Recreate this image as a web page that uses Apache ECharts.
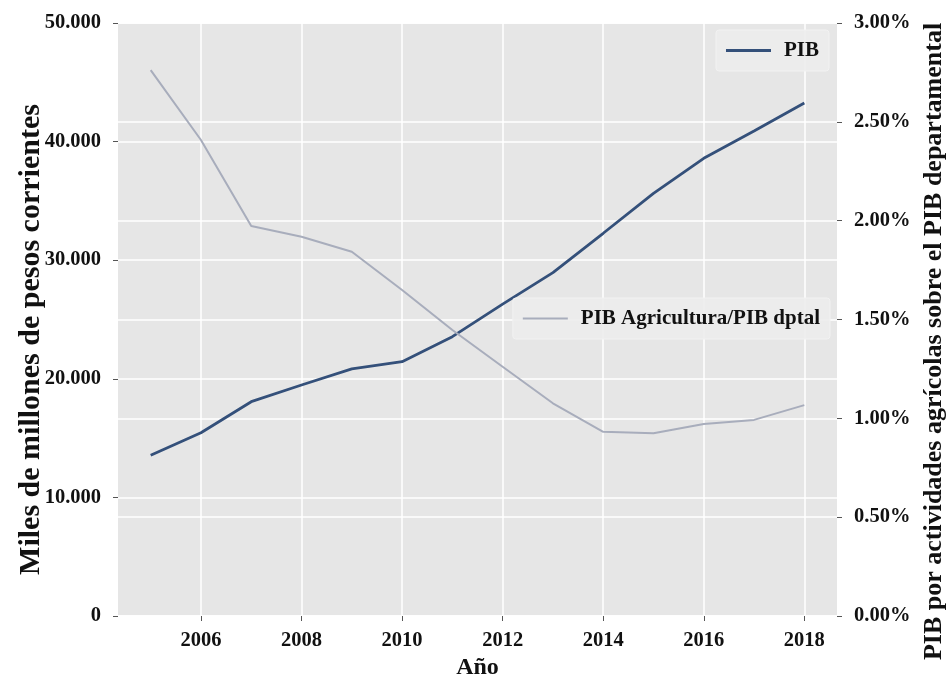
<!DOCTYPE html>
<html>
<head>
<meta charset="utf-8">
<script src="https://cdn.jsdelivr.net/npm/echarts@6/dist/echarts.min.js"></script>
<style>
  html, body { margin: 0; padding: 0; background: #fff; }
  #chart { width: 947px; height: 683px; }
</style>
</head>
<body>
<div id="chart"></div>
<script>
// years on the x axis
var years = [2005, 2006, 2007, 2008, 2009, 2010, 2011, 2012, 2013, 2014, 2015, 2016, 2017, 2018];
// PIB, miles de millones de pesos corrientes
var pib = [13550, 15450, 18070, 19480, 20830, 21440, 23550, 26300, 28950, 32270, 35640, 38590, 40900, 43260];
// PIB agricultura / PIB departamental, %
var agri = [2.762, 2.408, 1.973, 1.919, 1.843, 1.649, 1.447, 1.261, 1.076, 0.932, 0.924, 0.971, 0.992, 1.067];
var xTicks = [2006, 2008, 2010, 2012, 2014, 2016, 2018];

var font = "'Liberation Serif', 'DejaVu Serif', serif";
var chart = echarts.init(document.getElementById("chart"));

function pairs(ys) {
  return years.map(function (y, i) { return [y, ys[i]]; });
}

var legendBox = {
  padding: [10, 10, 10, 10],
  backgroundColor: "rgba(236,236,236,0.9)",
  borderColor: "#f2f2f2", borderWidth: 1, borderRadius: 3,
  icon: "rect", itemWidth: 45, itemGap: 10,
  textStyle: { fontFamily: font, fontWeight: "bold", fontSize: 21, color: "#111", padding: [0, 0, 0, 8] }
};

var option = {
  animation: false,
  textStyle: { fontFamily: font },
  grid: {
    left: 118, right: 110, top: 23, bottom: 67,
    outerBoundsMode: "none", containLabel: false,
    show: true, backgroundColor: "#e6e6e6", borderWidth: 0
  },
  legend: [
    Object.assign({}, legendBox, { data: ["PIB"], right: 118, top: 30, itemHeight: 3 }),
    Object.assign({}, legendBox, { data: ["PIB Agricultura/PIB dptal"], right: 117, top: 298, itemHeight: 2 })
  ],
  xAxis: {
    type: "value",
    min: 2004.35, max: 2018.65,
    name: "Año", nameLocation: "middle", nameGap: 35,
    nameTextStyle: { fontFamily: font, fontWeight: "bold", fontSize: 24, color: "#111" },
    axisLine: { show: false },
    axisTick: { show: true, length: 5, customValues: xTicks, lineStyle: { color: "#555" } },
    axisLabel: {
      customValues: xTicks, margin: 14,
      fontFamily: font, fontWeight: "bold", fontSize: 20.5, color: "#111",
      formatter: function (v) { return String(v); }
    },
    splitLine: { show: true, lineStyle: { color: "#fff", width: 1.5 } }
  },
  yAxis: [
    {
      type: "value", min: 0, max: 50000, interval: 10000,
      name: "Miles de millones de pesos corrientes",
      nameLocation: "middle", nameGap: 72, nameRotate: 90, nameMoveOverlap: false,
      nameTextStyle: {
        fontFamily: font, fontWeight: "bold", fontSize: 30, color: "#111",
        padding: [0, 40, 0, 0]
      },
      axisLine: { show: false },
      axisTick: { show: true, length: 5, lineStyle: { color: "#555" } },
      axisLabel: {
        margin: 17, fontFamily: font, fontWeight: "bold", fontSize: 20.5, color: "#111",
        formatter: function (v) { return v.toString().replace(/\B(?=(\d{3})+(?!\d))/g, "."); }
      },
      splitLine: { show: true, lineStyle: { color: "#fff", width: 1.5 } }
    },
    {
      type: "value", min: 0, max: 3, interval: 0.5, position: "right",
      name: "PIB por actividades agrícolas sobre el PIB departamental",
      nameLocation: "middle", nameGap: 82, nameRotate: 90,
      nameTextStyle: {
        fontFamily: font, fontWeight: "bold", fontSize: 26, color: "#111",
        padding: [0, 44, 0, 0]
      },
      axisLine: { show: false },
      axisTick: { show: true, length: 5, lineStyle: { color: "#555" } },
      axisLabel: {
        margin: 17, fontFamily: font, fontWeight: "bold", fontSize: 20.5, color: "#111",
        formatter: function (v) { return v.toFixed(2) + "%"; }
      },
      splitLine: { show: true, lineStyle: { color: "#fff", width: 1.5 } }
    }
  ],
  series: [
    {
      name: "PIB", type: "line", yAxisIndex: 0,
      data: pairs(pib), showSymbol: false,
      itemStyle: { color: "#34507a" },
      lineStyle: { color: "#34507a", width: 2.8 }
    },
    {
      name: "PIB Agricultura/PIB dptal", type: "line", yAxisIndex: 1,
      data: pairs(agri), showSymbol: false,
      itemStyle: { color: "#a8adbc" },
      lineStyle: { color: "#a8adbc", width: 2 }
    }
  ]
};

chart.setOption(option);
</script>
</body>
</html>
